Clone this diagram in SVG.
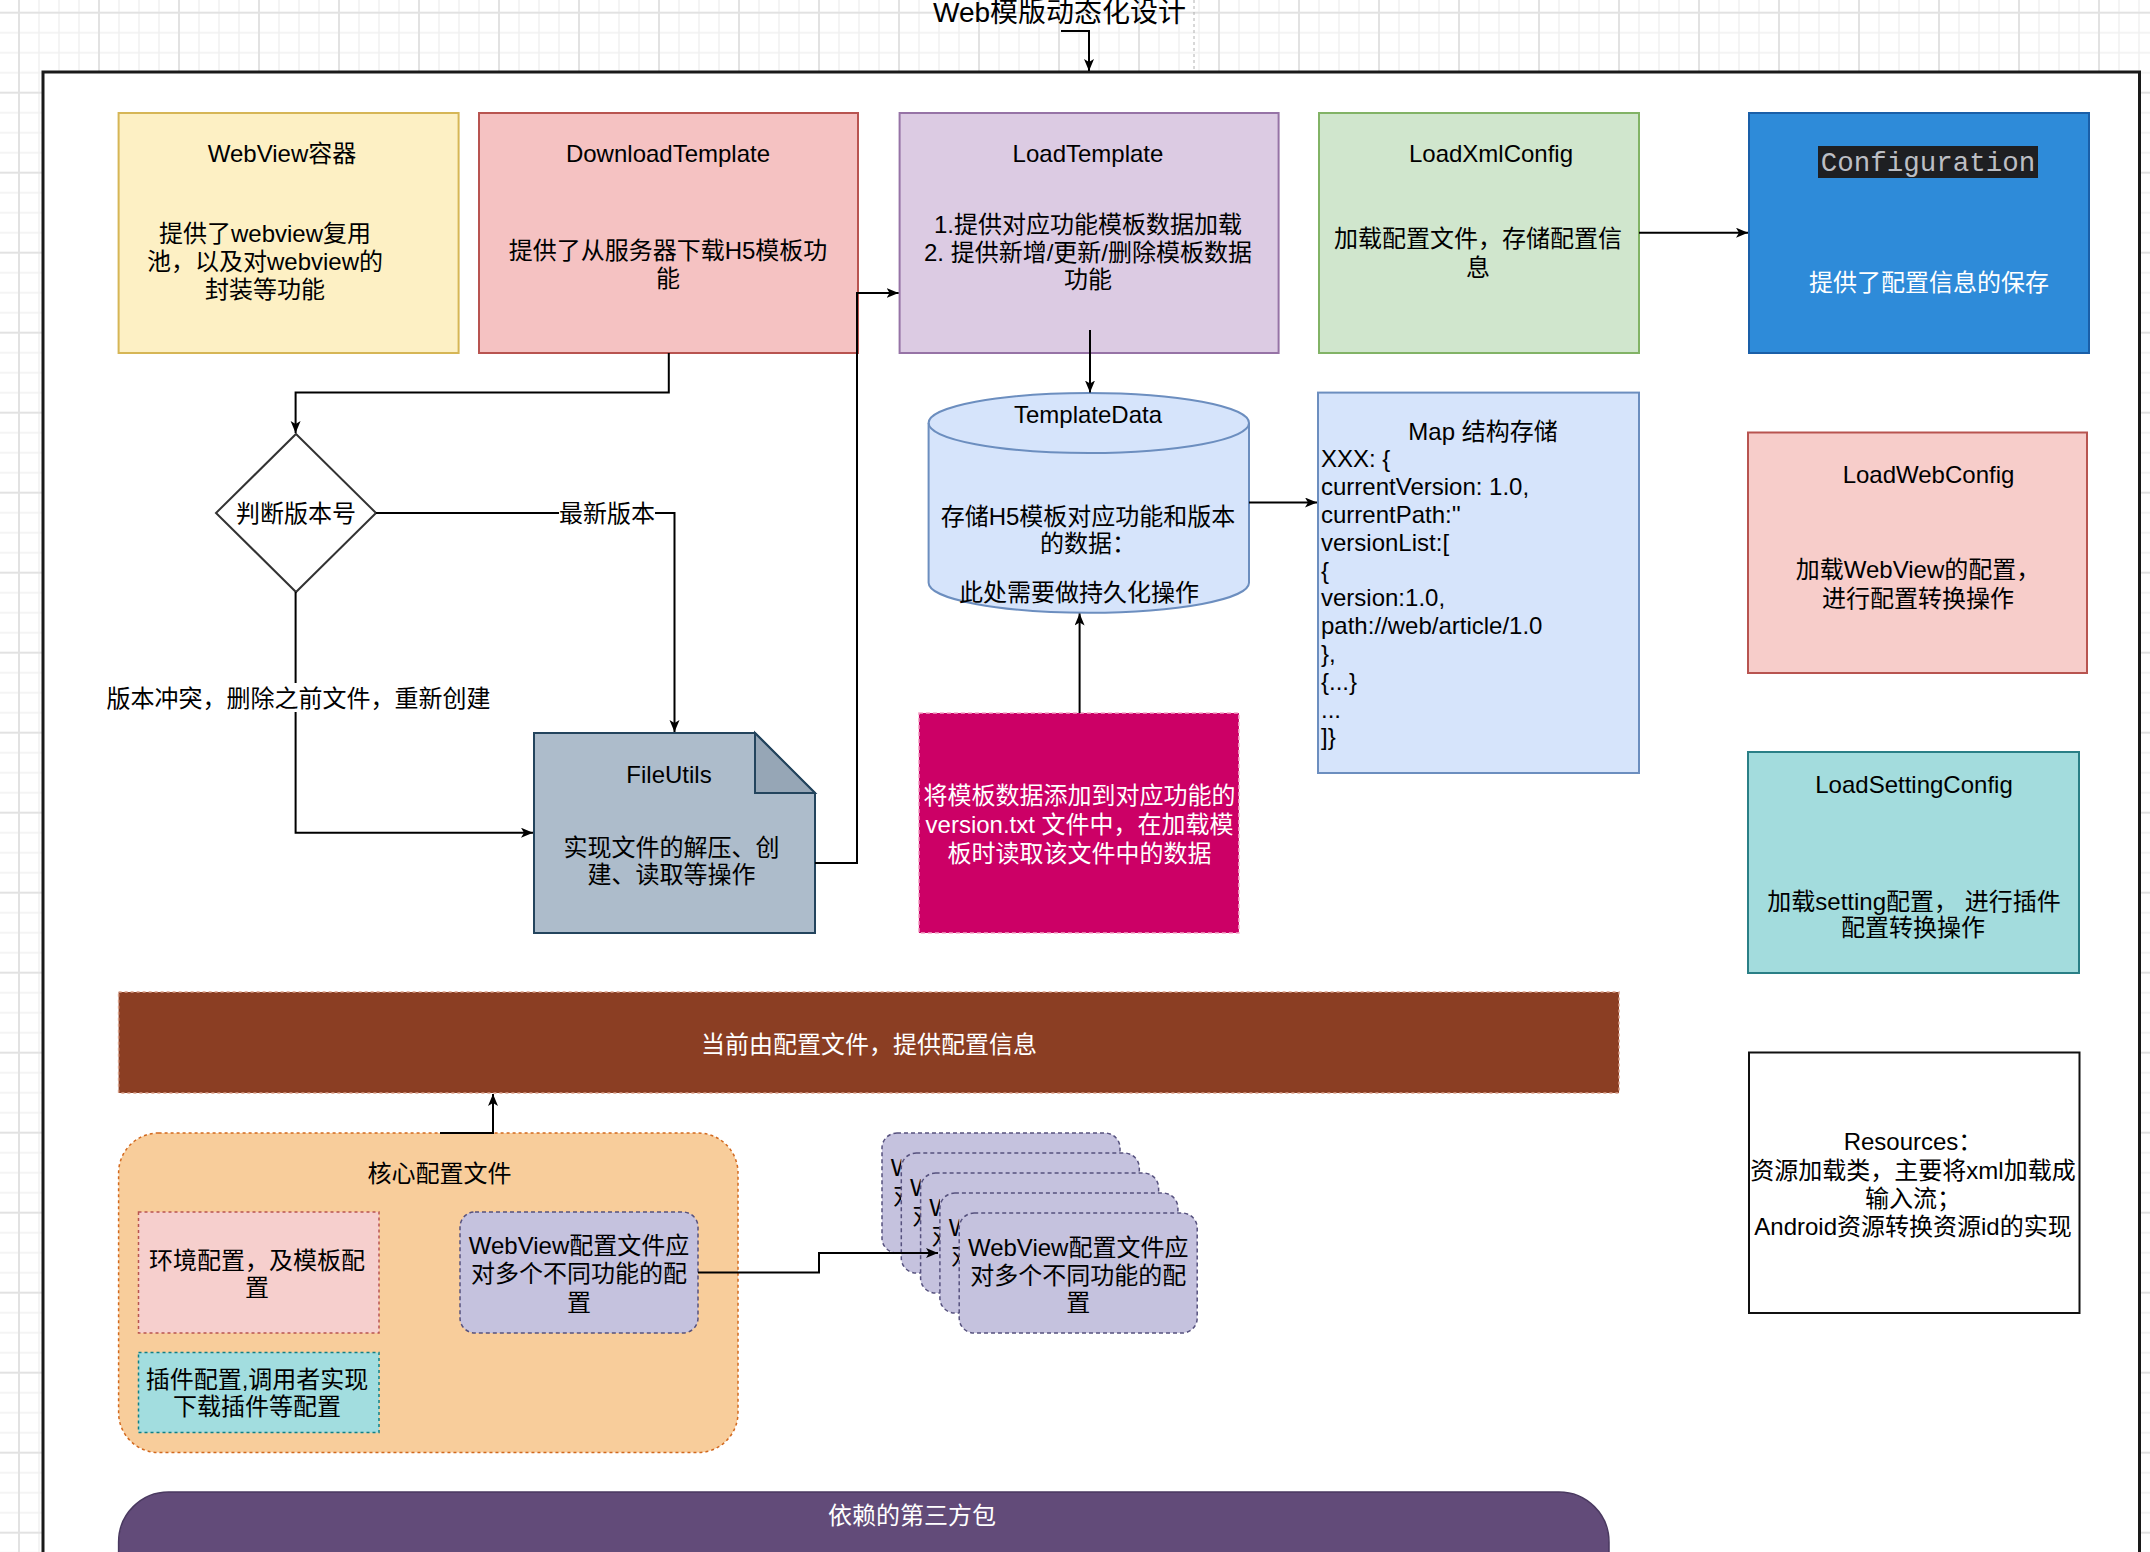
<svg xmlns="http://www.w3.org/2000/svg" width="2150" height="1552" viewBox="0 0 2150 1552">
<defs>
<pattern id="grid" x="18" y="11.7" width="80" height="80" patternUnits="userSpaceOnUse">
<rect width="80" height="80" fill="#ffffff"/>
<path d="M21,0V80M41,0V80M61,0V80M0,21H80M0,41H80M0,61H80" stroke="#f1f1f1" stroke-width="1.5" fill="none"/>
<path d="M1,0V80M0,1H80" stroke="#e2e2e2" stroke-width="2" fill="none"/>
</pattern>
<marker id="arr" markerUnits="userSpaceOnUse" markerWidth="14" markerHeight="12" refX="12" refY="5" orient="auto">
<path d="M0,0 L12,5 L0,10 L3,5 Z" fill="#000"/>
</marker>
<clipPath id="k0"><rect x="882" y="1133" width="19.3" height="120"/></clipPath>
<clipPath id="k1"><rect x="901.3" y="1153" width="19.3" height="120"/></clipPath>
<clipPath id="k2"><rect x="920.6" y="1173" width="19.3" height="120"/></clipPath>
<clipPath id="k3"><rect x="939.9" y="1193" width="19.3" height="120"/></clipPath>
<style>
.t{font-family:"Liberation Sans","Noto Sans CJK SC",sans-serif;font-size:24px;fill:#000;text-anchor:middle}
.w{fill:#fff}
.s{text-anchor:start}
.c{fill:none;stroke:#000;stroke-width:2;marker-end:url(#arr)}
.card{fill:#c5c2de;stroke:#56517e;stroke-width:1.5;stroke-dasharray:4 3}
</style>
</defs>
<rect x="0" y="0" width="2150" height="1552" fill="url(#grid)"/>
<line x1="1194" y1="0" x2="1194" y2="72" stroke="#b0b0b0" stroke-width="1" stroke-dasharray="3 3"/>
<text class="t" x="1059.5" y="21.5" style="font-size:28px">Web模版动态化设计</text>
<rect id="container" x="43" y="72" width="2096.5" height="1510" fill="#ffffff" stroke="#1a1a1a" stroke-width="3"/>

<g id="webview">
<rect x="118.6" y="113" width="340" height="240" fill="#fdf0c4" stroke="#d6b656" stroke-width="2"/>
<text class="t" x="282" y="162">WebView容器</text>
<text class="t" x="265" y="242">提供了webview复用</text>
<text class="t" x="265" y="270">池，以及对webview的</text>
<text class="t" x="265" y="298">封装等功能</text>
</g>
<g id="download">
<rect x="479" y="113" width="379" height="240" fill="#f5c2c2" stroke="#b85450" stroke-width="2"/>
<text class="t" x="668" y="162">DownloadTemplate</text>
<text class="t" x="668" y="259">提供了从服务器下载H5模板功</text>
<text class="t" x="668" y="287">能</text>
</g>
<g id="loadtemplate">
<rect x="899.6" y="113" width="379" height="240" fill="#dccbe3" stroke="#9673a6" stroke-width="2"/>
<text class="t" x="1088" y="162">LoadTemplate</text>
<text class="t" x="1088" y="233">1.提供对应功能模板数据加载</text>
<text class="t" x="1088" y="260.7">2. 提供新增/更新/删除模板数据</text>
<text class="t" x="1088" y="288">功能</text>
</g>
<g id="loadxml">
<rect x="1319" y="113" width="320" height="240" fill="#d0e6cd" stroke="#82b366" stroke-width="2"/>
<text class="t" x="1491" y="162">LoadXmlConfig</text>
<text class="t" x="1478" y="247.3">加载配置文件，存储配置信</text>
<text class="t" x="1478" y="275.7">息</text>
</g>
<g id="configuration">
<rect x="1749" y="113" width="340" height="240" fill="#2e8bd9" stroke="#1a5fa8" stroke-width="2"/>
<rect x="1818" y="146" width="220" height="32" fill="#1e1f22"/>
<text x="1928" y="171" style="font-family:'Liberation Mono','DejaVu Sans Mono',monospace;font-size:27.5px;fill:#bcbec4;text-anchor:middle">Configuration</text>
<text class="t w" x="1929" y="290.7">提供了配置信息的保存</text>
</g>
<g id="decision">
<polygon points="296,434 376,513 296,592 216,513" fill="#ffffff" stroke="#333" stroke-width="2"/>
<text class="t" x="296" y="522">判断版本号</text>
</g>
<g id="fileutils">
<path d="M534,733 H755 L815,793 V933 H534 Z" fill="#adbccb" stroke="#23445d" stroke-width="2"/>
<path d="M755,733 V793 H815 Z" fill="#96a6b6" stroke="#23445d" stroke-width="2"/>
<text class="t" x="669" y="783">FileUtils</text>
<text class="t" x="671.6" y="856">实现文件的解压、创</text>
<text class="t" x="671.6" y="882.7">建、读取等操作</text>
</g>
<g id="templatedata">
<path d="M928.6,423 A160.2,30 0 0 1 1249,423 V582.7 A160.2,30 0 0 1 928.6,582.7 Z" fill="#d6e4fb" stroke="#6c8ebf" stroke-width="2"/>
<path d="M928.6,423 A160.2,30 0 0 0 1249,423" fill="none" stroke="#6c8ebf" stroke-width="2"/>
<text class="t" x="1088" y="423.4">TemplateData</text>
<text class="t" x="1088" y="525">存储H5模板对应功能和版本</text>
<text class="t" x="1088" y="551.6">的数据：</text>
<text class="t" x="1079" y="601.4">此处需要做持久化操作</text>
</g>
<g id="map">
<rect x="1318" y="392.6" width="321" height="380.4" fill="#d6e4fb" stroke="#6c8ebf" stroke-width="2"/>
<text class="t" x="1483" y="439.5">Map 结构存储</text>
<text class="t s" x="1321" y="467.3">XXX: {</text>
<text class="t s" x="1321" y="495.1">currentVersion: 1.0,</text>
<text class="t s" x="1321" y="522.9">currentPath:''</text>
<text class="t s" x="1321" y="550.7">versionList:[</text>
<text class="t s" x="1321" y="578.5">{</text>
<text class="t s" x="1321" y="606.3">version:1.0,</text>
<text class="t s" x="1321" y="634.1">path://web/article/1.0</text>
<text class="t s" x="1321" y="661.9">},</text>
<text class="t s" x="1321" y="689.7">{...}</text>
<text class="t s" x="1321" y="717.5">...</text>
<text class="t s" x="1321" y="745.3">]}</text>
</g>
<g id="versiontxt">
<rect x="918.9" y="713" width="320" height="220" fill="#cc0066" stroke="#f4a7c8" stroke-width="1.5" stroke-dasharray="4 3"/>
<text class="t w" x="1079.6" y="804">将模板数据添加到对应功能的</text>
<text class="t w" x="1079.6" y="833">version.txt 文件中，在加载模</text>
<text class="t w" x="1079.6" y="861.6">板时读取该文件中的数据</text>
</g>
<g id="loadwebconfig">
<rect x="1748" y="432.5" width="339" height="240.5" fill="#f7cdca" stroke="#b85450" stroke-width="2"/>
<text class="t" x="1928.5" y="482.8">LoadWebConfig</text>
<text class="t" x="1918" y="578.4">加载WebView的配置，</text>
<text class="t" x="1918" y="607">进行配置转换操作</text>
</g>
<g id="loadsettingconfig">
<rect x="1748" y="752" width="331" height="221" fill="#a3dcdd" stroke="#2a7f86" stroke-width="2"/>
<text class="t" x="1914" y="792.7">LoadSettingConfig</text>
<text class="t" x="1914" y="909.5">加载setting配置， 进行插件</text>
<text class="t" x="1913" y="936">配置转换操作</text>
</g>
<g id="resources">
<rect x="1749" y="1052.5" width="330.5" height="260.5" fill="#ffffff" stroke="#111" stroke-width="2"/>
<text class="t" x="1913" y="1150">Resources：</text>
<text class="t" x="1913" y="1178.5">资源加载类，主要将xml加载成</text>
<text class="t" x="1913" y="1206.8">输入流；</text>
<text class="t" x="1913" y="1235">Android资源转换资源id的实现</text>
</g>
<g id="configbar">
<rect x="118.6" y="992" width="1500.4" height="101" fill="#8b3e23" stroke="#d9a08a" stroke-width="1.5" stroke-dasharray="3 3"/>
<text class="t w" x="869" y="1053">当前由配置文件，提供配置信息</text>
</g>
<g id="coreconfig">
<rect x="118.6" y="1133" width="619.4" height="319.6" rx="40" ry="40" fill="#f8cd9b" stroke="#d2691e" stroke-width="1.5" stroke-dasharray="3 3"/>
<text class="t" x="439.5" y="1182">核心配置文件</text>
</g>
<g id="envconfig">
<rect x="138.5" y="1212" width="240.5" height="121" fill="#f6cfcd" stroke="#b85450" stroke-width="1.5" stroke-dasharray="3 3"/>
<text class="t" x="257" y="1269">环境配置，及模板配</text>
<text class="t" x="257" y="1295.5">置</text>
</g>
<g id="pluginconfig">
<rect x="138.5" y="1352.6" width="240.5" height="80" fill="#a2dddf" stroke="#0e8088" stroke-width="1.5" stroke-dasharray="3 3"/>
<text class="t" x="257" y="1388">插件配置,调用者实现</text>
<text class="t" x="257" y="1414.5">下载插件等配置</text>
</g>
<g id="webviewconfig">
<rect class="card" x="460" y="1212" width="238" height="121" rx="15" ry="15"/>
<text class="t" x="579" y="1254">WebView配置文件应</text>
<text class="t" x="579" y="1282">对多个不同功能的配</text>
<text class="t" x="579" y="1310.6">置</text>
</g>
<g id="webviewconfigs">
<g><rect class="card" x="882" y="1133" width="238" height="120" rx="15" ry="15"/>
<g clip-path="url(#k0)"><text class="t" x="1001" y="1176.4">WebView配置文件应</text><text class="t" x="1001" y="1203.7">对多个不同功能的配</text></g></g>
<g><rect class="card" x="901.3" y="1153" width="238" height="120" rx="15" ry="15"/>
<g clip-path="url(#k1)"><text class="t" x="1020.3" y="1196.4">WebView配置文件应</text><text class="t" x="1020.3" y="1223.7">对多个不同功能的配</text></g></g>
<g><rect class="card" x="920.6" y="1173" width="238" height="120" rx="15" ry="15"/>
<g clip-path="url(#k2)"><text class="t" x="1039.6" y="1216.4">WebView配置文件应</text><text class="t" x="1039.6" y="1243.7">对多个不同功能的配</text></g></g>
<g><rect class="card" x="939.9" y="1193" width="238" height="120" rx="15" ry="15"/>
<g clip-path="url(#k3)"><text class="t" x="1058.9" y="1236.4">WebView配置文件应</text><text class="t" x="1058.9" y="1263.7">对多个不同功能的配</text></g></g>
<g><rect class="card" x="959.2" y="1213" width="238" height="120" rx="15" ry="15"/>
<text class="t" x="1078.2" y="1256.4">WebView配置文件应</text><text class="t" x="1078.2" y="1283.7">对多个不同功能的配</text><text class="t" x="1078.2" y="1311.4">置</text></g>
</g>
<g id="thirdparty">
<rect x="118.6" y="1492" width="1490.4" height="120" rx="50" ry="50" fill="#624b79" stroke="#4a3960" stroke-width="1.5"/>
<text class="t w" x="912" y="1524">依赖的第三方包</text>
</g>

<g id="connectors">
<path class="c" d="M1061,31 H1089 V71"/>
<path class="c" d="M668.8,353 V392.6 H295.6 V433"/>
<path class="c" d="M376,513 H674.5 V732"/>
<path class="c" d="M295.6,592 V832.7 H533"/>
<path class="c" d="M815,863 H857 V293 H898.6"/>
<path class="c" d="M1090,330 V392.5"/>
<path class="c" d="M1249,502.5 H1317"/>
<path class="c" d="M1079.6,713 V613.5"/>
<path class="c" d="M1639,232.7 H1748"/>
<path class="c" d="M440,1133 H493 V1094"/>
<path class="c" d="M698,1272.6 H819 V1253 H938"/>
<rect x="559" y="499" width="96" height="28" fill="#ffffff"/>
<text class="t" x="607" y="522">最新版本</text>
<rect x="106" y="683" width="385" height="29" fill="#ffffff"/>
<text class="t" x="298.5" y="706.6">版本冲突，删除之前文件，重新创建</text>
</g>
</svg>
